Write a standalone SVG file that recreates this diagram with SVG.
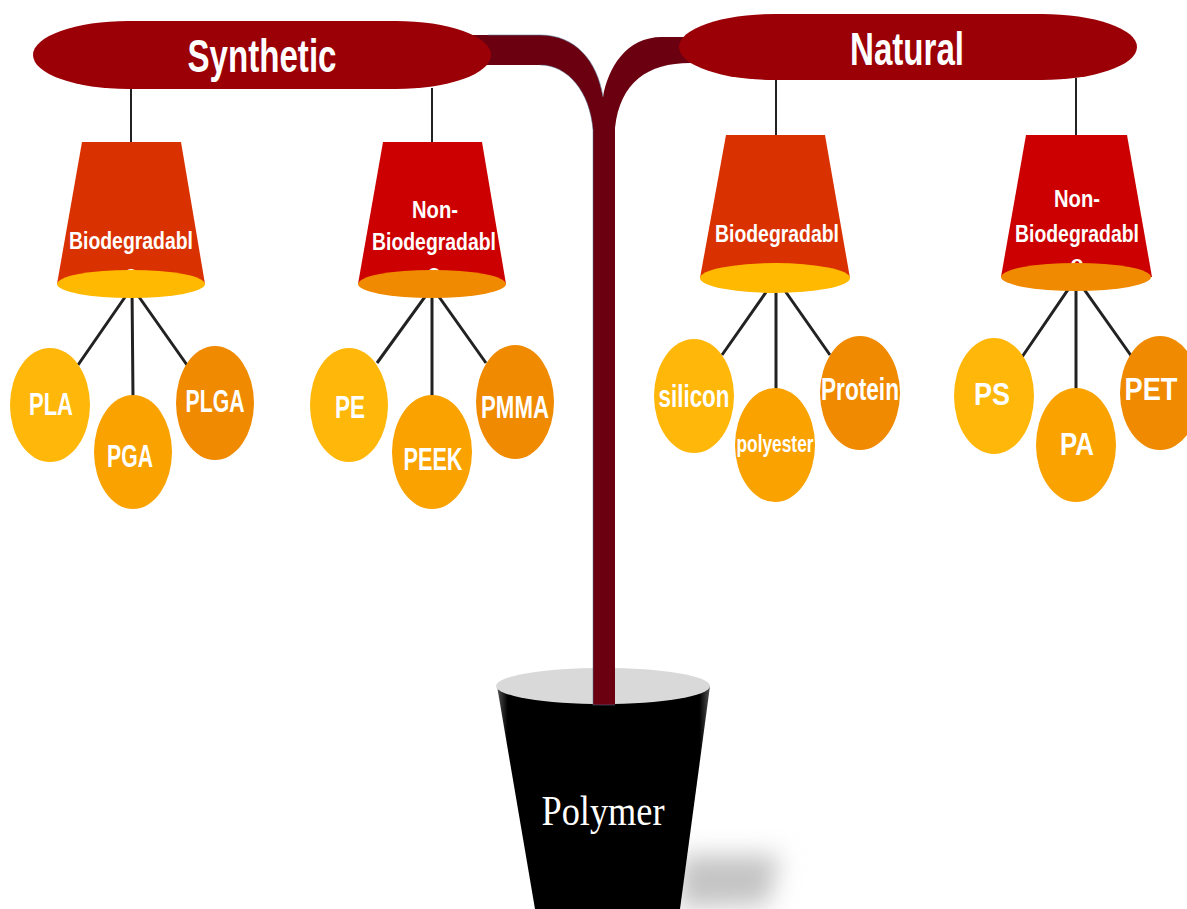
<svg xmlns="http://www.w3.org/2000/svg" width="1187" height="909" viewBox="0 0 1187 909">
<defs>
<style>
.lbl{font-family:"Liberation Sans Narrow","Liberation Sans",Arial,sans-serif;font-weight:bold;fill:#fff;text-anchor:middle}
.pill{fill:#9b0007}
.conn{stroke:#222;stroke-width:2;fill:none}
.leg{stroke:#222;stroke-width:3;fill:none}
.bio{fill:#da3100}
.nbio{fill:#cc0000}
.bioBase{fill:#ffb900}
.nbioBase{fill:#f08a00}
.c1{fill:#ffb70a}
.c2{fill:#f9a200}
.c3{fill:#f08a00}
</style>
<linearGradient id="potg" x1="0" y1="0" x2="1" y2="0">
<stop offset="0" stop-color="#555"/>
<stop offset="0.05" stop-color="#000"/>
<stop offset="0.95" stop-color="#000"/>
<stop offset="1" stop-color="#555"/>
</linearGradient>
<filter id="blur" x="-50%" y="-50%" width="200%" height="200%"><feGaussianBlur stdDeviation="12"/></filter>
</defs>
<rect width="1187" height="909" fill="#fff"/>

<g id="pot">
<path d="M680 855 L780 855 L768 905 L678 908 Z" fill="#c4c4c4" filter="url(#blur)"/>
<path d="M497 686 L710 686 L680 909 L535 909 Z" fill="url(#potg)"/>
<ellipse cx="603" cy="686" rx="107" ry="18" fill="#d9d9d9"/>
<text x="603" y="825" font-family="Liberation Serif,'Times New Roman',serif" font-size="42" fill="#fff" text-anchor="middle" textLength="123" lengthAdjust="spacingAndGlyphs">Polymer</text>
</g>

<g id="stem">
<path d="M440 35 L540 35 C575 35 597 60 603 97 C608 68 626 37 662 37 L740 37 L740 63 L690 63 C648 63 620 82 615 128 L615 705 L593 705 L593 130 C590 92 568 65 540 65 L440 65 Z" fill="#6a0010"/>
<path d="M488 35 L540 35 C575 35 597 60 603 97" fill="none" stroke="#5a7ea0" stroke-width="1" opacity="0.6"/>
<path d="M540 65 C568 65 590 92 593 130 L593 705 L615 705" fill="none" stroke="#5a7ea0" stroke-width="1" opacity="0.5"/>
</g>

<g id="connectors">
<line class="conn" x1="131" y1="88" x2="131" y2="142"/>
<line class="conn" x1="432" y1="88" x2="432" y2="142"/>
<line class="conn" x1="776" y1="78" x2="776" y2="135"/>
<line class="conn" x1="1076" y1="78" x2="1076" y2="135"/>
<path class="leg" d="M78 365 L132 287 L187 365 M132 287 L133 398"/>
<path class="leg" d="M377 363 L432 287 L486 363 M432 287 L432 398"/>
<path class="leg" d="M722 355 L776 278 L830 355 M776 278 L776 390"/>
<path class="leg" d="M1022 357 L1076 278 L1132 357 M1076 278 L1076 390"/>
</g>

<g id="synthetic">
<rect class="pill" x="33" y="21" width="458" height="68" rx="95" ry="34"/>
<text class="lbl" x="262" y="72" font-size="46" textLength="149" lengthAdjust="spacingAndGlyphs">Synthetic</text>
</g>
<g id="natural">
<rect class="pill" x="679" y="14" width="458" height="66" rx="95" ry="33"/>
<text class="lbl" x="907" y="65" font-size="46" textLength="114" lengthAdjust="spacingAndGlyphs">Natural</text>
</g>

<g id="syn-bio">
<path class="bio" d="M82 142 L181 142 L205 284 L57 284 Z"/>
<text class="lbl" x="131" y="249" font-size="24" textLength="124" lengthAdjust="spacingAndGlyphs">Biodegradabl</text>
<text class="lbl" x="131" y="282" font-size="24">e</text>
<ellipse class="bioBase" cx="131" cy="284" rx="74" ry="14"/>
</g>
<g id="syn-nonbio">
<path class="nbio" d="M383 142 L482 142 L506 284 L358 284 Z"/>
<text class="lbl" x="435" y="218" font-size="24" textLength="46" lengthAdjust="spacingAndGlyphs">Non-</text>
<text class="lbl" x="434" y="250" font-size="24" textLength="124" lengthAdjust="spacingAndGlyphs">Biodegradabl</text>
<text class="lbl" x="434" y="281" font-size="24">e</text>
<ellipse class="nbioBase" cx="432" cy="284" rx="74" ry="14"/>
</g>
<g id="nat-bio">
<path class="bio" d="M726 135 L825 135 L850 278 L700 278 Z"/>
<text class="lbl" x="777" y="242" font-size="24" textLength="124" lengthAdjust="spacingAndGlyphs">Biodegradabl</text>
<text class="lbl" x="777" y="276" font-size="24">e</text>
<ellipse class="bioBase" cx="775" cy="278" rx="75" ry="15"/>
</g>
<g id="nat-nonbio">
<path class="nbio" d="M1026 135 L1127 135 L1152 277 L1001 277 Z"/>
<text class="lbl" x="1077" y="207" font-size="24" textLength="46" lengthAdjust="spacingAndGlyphs">Non-</text>
<text class="lbl" x="1077" y="242" font-size="24" textLength="124" lengthAdjust="spacingAndGlyphs">Biodegradabl</text>
<text class="lbl" x="1077" y="272" font-size="24">e</text>
<ellipse class="nbioBase" cx="1076" cy="277" rx="75" ry="14"/>
</g>

<g id="pla"><ellipse class="c1" cx="50" cy="405" rx="40" ry="57"/><text class="lbl" x="51" y="415" font-size="31" textLength="44" lengthAdjust="spacingAndGlyphs">PLA</text></g>
<g id="pga"><ellipse class="c2" cx="133" cy="452" rx="39" ry="57"/><text class="lbl" x="130" y="467" font-size="31" textLength="46" lengthAdjust="spacingAndGlyphs">PGA</text></g>
<g id="plga"><ellipse class="c3" cx="215" cy="403" rx="39" ry="57"/><text class="lbl" x="215" y="412" font-size="31" textLength="59" lengthAdjust="spacingAndGlyphs">PLGA</text></g>
<g id="pe"><ellipse class="c1" cx="349" cy="405" rx="39" ry="57"/><text class="lbl" x="350" y="418" font-size="31" textLength="30" lengthAdjust="spacingAndGlyphs">PE</text></g>
<g id="peek"><ellipse class="c2" cx="432" cy="452" rx="40" ry="57"/><text class="lbl" x="433" y="470" font-size="31" textLength="59" lengthAdjust="spacingAndGlyphs">PEEK</text></g>
<g id="pmma"><ellipse class="c3" cx="515" cy="402" rx="39" ry="57"/><text class="lbl" x="515" y="418" font-size="31" textLength="68" lengthAdjust="spacingAndGlyphs">PMMA</text></g>
<g id="silicon"><ellipse class="c1" cx="694" cy="396" rx="40" ry="57"/><text class="lbl" x="694" y="407" font-size="31" textLength="71" lengthAdjust="spacingAndGlyphs">silicon</text></g>
<g id="polyester"><ellipse class="c2" cx="775" cy="445" rx="40" ry="57"/><text class="lbl" x="775" y="452" font-size="23" textLength="77" lengthAdjust="spacingAndGlyphs">polyester</text></g>
<g id="protein"><ellipse class="c3" cx="860" cy="393" rx="40" ry="57"/><text class="lbl" x="860" y="400" font-size="31" textLength="78" lengthAdjust="spacingAndGlyphs">Protein</text></g>
<g id="ps"><ellipse class="c1" cx="994" cy="396" rx="40" ry="58"/><text class="lbl" x="992" y="405" font-size="31" textLength="36" lengthAdjust="spacingAndGlyphs">PS</text></g>
<g id="pa"><ellipse class="c2" cx="1076" cy="445" rx="40" ry="57"/><text class="lbl" x="1077" y="455" font-size="31" textLength="34" lengthAdjust="spacingAndGlyphs">PA</text></g>
<g id="pet"><ellipse class="c3" cx="1160" cy="393" rx="40" ry="57"/><text class="lbl" x="1151" y="400" font-size="31" textLength="53" lengthAdjust="spacingAndGlyphs">PET</text></g>
</svg>
